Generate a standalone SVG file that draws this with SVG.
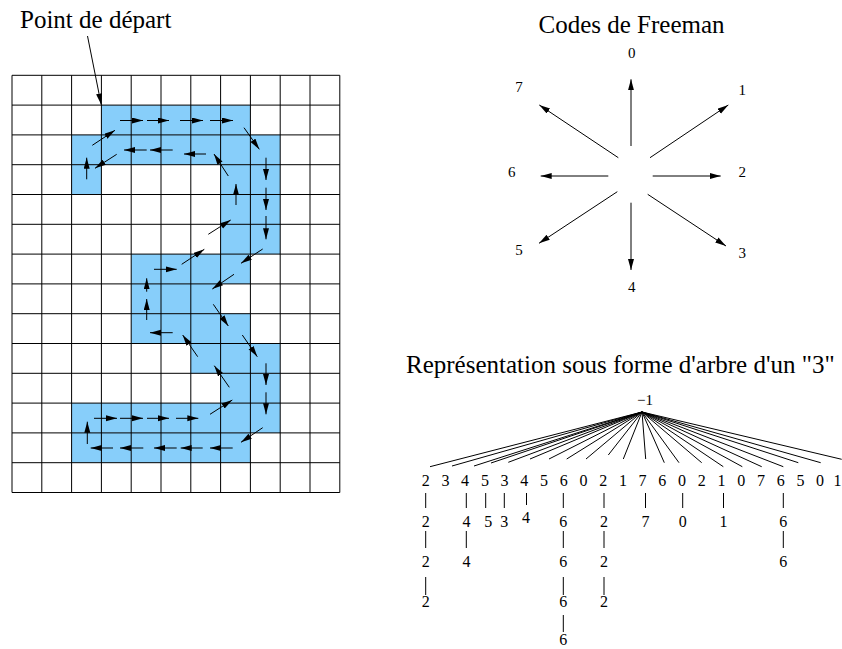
<svg xmlns="http://www.w3.org/2000/svg" width="842" height="649" viewBox="0 0 842 649">
<style>
text{font-family:"Liberation Serif","Times New Roman",serif;fill:#000}
.title{font-size:25px}
.lab{font-size:15px;text-anchor:middle}
.dig{font-size:16px;text-anchor:middle}
.cell{fill:#87CEFA;stroke:none}
.grid line{stroke:#000;stroke-width:1}
.arr line{stroke:#000;stroke-width:1;marker-end:url(#ah)}
.tree line{stroke:#000;stroke-width:1}
</style>
<defs>
<marker id="ah" markerUnits="userSpaceOnUse" markerWidth="12" markerHeight="7" refX="11" refY="3" orient="auto">
<path d="M0,0 L11,3 L0,6 z" fill="#000"/>
</marker>
</defs>
<rect width="842" height="649" fill="#fff"/>

<g id="grid">
<g id="blue-cells">
<rect class="cell" x="101.4" y="105.1" width="149" height="29.8"/>
<rect class="cell" x="71.6" y="134.9" width="208.6" height="29.8"/>
<rect class="cell" x="71.6" y="164.7" width="29.8" height="29.8"/>
<rect class="cell" x="220.6" y="164.7" width="59.6" height="89.4"/>
<rect class="cell" x="131.2" y="254.1" width="119.2" height="29.8"/>
<rect class="cell" x="131.2" y="283.9" width="89.4" height="29.8"/>
<rect class="cell" x="131.2" y="313.7" width="119.2" height="29.8"/>
<rect class="cell" x="190.8" y="343.5" width="89.4" height="29.8"/>
<rect class="cell" x="220.6" y="373.3" width="59.6" height="29.8"/>
<rect class="cell" x="71.6" y="403.1" width="208.6" height="29.8"/>
<rect class="cell" x="71.6" y="432.9" width="178.8" height="29.8"/>
</g>
<g class="grid">
<line x1="12" y1="75.3" x2="12" y2="492.5"/>
<line x1="41.8" y1="75.3" x2="41.8" y2="492.5"/>
<line x1="71.6" y1="75.3" x2="71.6" y2="492.5"/>
<line x1="101.4" y1="75.3" x2="101.4" y2="492.5"/>
<line x1="131.2" y1="75.3" x2="131.2" y2="492.5"/>
<line x1="161" y1="75.3" x2="161" y2="492.5"/>
<line x1="190.8" y1="75.3" x2="190.8" y2="492.5"/>
<line x1="220.6" y1="75.3" x2="220.6" y2="492.5"/>
<line x1="250.4" y1="75.3" x2="250.4" y2="492.5"/>
<line x1="280.2" y1="75.3" x2="280.2" y2="492.5"/>
<line x1="310" y1="75.3" x2="310" y2="492.5"/>
<line x1="339.8" y1="75.3" x2="339.8" y2="492.5"/>
<line x1="12" y1="75.3" x2="339.8" y2="75.3"/>
<line x1="12" y1="105.1" x2="339.8" y2="105.1"/>
<line x1="12" y1="134.9" x2="339.8" y2="134.9"/>
<line x1="12" y1="164.7" x2="339.8" y2="164.7"/>
<line x1="12" y1="194.5" x2="339.8" y2="194.5"/>
<line x1="12" y1="224.3" x2="339.8" y2="224.3"/>
<line x1="12" y1="254.1" x2="339.8" y2="254.1"/>
<line x1="12" y1="283.9" x2="339.8" y2="283.9"/>
<line x1="12" y1="313.7" x2="339.8" y2="313.7"/>
<line x1="12" y1="343.5" x2="339.8" y2="343.5"/>
<line x1="12" y1="373.3" x2="339.8" y2="373.3"/>
<line x1="12" y1="403.1" x2="339.8" y2="403.1"/>
<line x1="12" y1="432.9" x2="339.8" y2="432.9"/>
<line x1="12" y1="462.7" x2="339.8" y2="462.7"/>
<line x1="12" y1="492.5" x2="339.8" y2="492.5"/>
</g>
</g>

<g id="start-label">
<text class="title" x="20" y="27.5">Point de départ</text>
</g>

<g id="chain-arrows" class="arr">
<line x1="87.5" y1="36" x2="101.2" y2="104.5"/>
<line x1="120" y1="120.5" x2="143" y2="120.5"/>
<line x1="147" y1="120.5" x2="169" y2="120.5"/>
<line x1="180" y1="120.5" x2="203" y2="120.5"/>
<line x1="210" y1="120.5" x2="233" y2="120.5"/>
<line x1="244" y1="127.7" x2="259.3" y2="149.3"/>
<line x1="266" y1="157.7" x2="266" y2="180"/>
<line x1="266" y1="187.7" x2="266" y2="210"/>
<line x1="266" y1="216" x2="266" y2="239.3"/>
<line x1="262.7" y1="249" x2="241" y2="263.3"/>
<line x1="234" y1="274.3" x2="212.3" y2="289"/>
<line x1="213.3" y1="304.3" x2="228.3" y2="326"/>
<line x1="242.3" y1="335" x2="257.3" y2="356.7"/>
<line x1="266" y1="363.3" x2="266" y2="385"/>
<line x1="266" y1="392.3" x2="266" y2="414.3"/>
<line x1="262.7" y1="427.7" x2="241" y2="442.3"/>
<line x1="232.7" y1="448" x2="210" y2="448"/>
<line x1="202.7" y1="448" x2="180.7" y2="448"/>
<line x1="176.7" y1="448" x2="154" y2="448"/>
<line x1="143.3" y1="448" x2="120" y2="448"/>
<line x1="113" y1="448" x2="90.7" y2="448"/>
<line x1="87.3" y1="444" x2="87.3" y2="421.7"/>
<line x1="94" y1="418.3" x2="117" y2="418.3"/>
<line x1="120" y1="418.3" x2="143" y2="418.3"/>
<line x1="147" y1="418.3" x2="169" y2="418.3"/>
<line x1="176" y1="418.3" x2="198.3" y2="418.3"/>
<line x1="210" y1="414.3" x2="232.3" y2="400"/>
<line x1="229.3" y1="387.3" x2="214.3" y2="365.7"/>
<line x1="197.7" y1="356.7" x2="182.7" y2="335"/>
<line x1="172.7" y1="332.7" x2="150" y2="332.7"/>
<line x1="146.7" y1="320" x2="146.7" y2="299"/>
<line x1="146.7" y1="291.7" x2="146.7" y2="278.3"/>
<line x1="154" y1="269.3" x2="176.7" y2="269.3"/>
<line x1="181.7" y1="264.3" x2="204.3" y2="249.3"/>
<line x1="208.3" y1="234.3" x2="230.7" y2="220"/>
<line x1="236" y1="205" x2="236" y2="184"/>
<line x1="228.3" y1="176" x2="214" y2="154"/>
<line x1="206" y1="154" x2="184" y2="154"/>
<line x1="172.7" y1="150" x2="150" y2="150"/>
<line x1="146.7" y1="150" x2="124" y2="150"/>
<line x1="116.7" y1="154.3" x2="95" y2="168.3"/>
<line x1="86.7" y1="179.3" x2="86.7" y2="157.7"/>
<line x1="92.3" y1="145.3" x2="115" y2="130.3"/>
</g>

<g id="freeman">
<text class="title" x="631.5" y="33" text-anchor="middle">Codes de Freeman</text>
<g class="arr">
<line x1="631" y1="146" x2="631" y2="79.3"/>
<line x1="650" y1="157.7" x2="728.3" y2="105"/>
<line x1="652.7" y1="176" x2="720.7" y2="176"/>
<line x1="647.7" y1="194.3" x2="726" y2="246"/>
<line x1="631" y1="202.7" x2="631" y2="270"/>
<line x1="617.3" y1="191.7" x2="539" y2="243.3"/>
<line x1="608.3" y1="176" x2="540.7" y2="176"/>
<line x1="618.3" y1="157.7" x2="539.3" y2="105"/>
</g>
<text class="lab" x="631.7" y="58">0</text>
<text class="lab" x="742.3" y="95">1</text>
<text class="lab" x="742.3" y="177">2</text>
<text class="lab" x="742.3" y="258">3</text>
<text class="lab" x="631.7" y="292">4</text>
<text class="lab" x="519" y="255">5</text>
<text class="lab" x="511.7" y="177">6</text>
<text class="lab" x="519" y="92">7</text>
</g>

<g id="tree">
<text class="title" x="406" y="373">Représentation sous forme d'arbre d'un "3"</text>
<text class="lab" x="645" y="405">−1</text>
<g class="tree" id="tree-edges">
<line x1="642" y1="412" x2="430" y2="466.7"/>
<line x1="642" y1="412" x2="452" y2="466"/>
<line x1="642" y1="412" x2="474" y2="466"/>
<line x1="642" y1="412" x2="491" y2="463"/>
<line x1="642" y1="412" x2="508.3" y2="462.3"/>
<line x1="642" y1="412" x2="530" y2="459"/>
<line x1="642" y1="412" x2="549" y2="459"/>
<line x1="642" y1="412" x2="566.7" y2="459"/>
<line x1="642" y1="412" x2="586" y2="459"/>
<line x1="642" y1="412" x2="608.3" y2="455"/>
<line x1="642" y1="412" x2="623.3" y2="459"/>
<line x1="642" y1="412" x2="645.7" y2="459"/>
<line x1="642" y1="412" x2="664.3" y2="462.7"/>
<line x1="642" y1="412" x2="679" y2="462.7"/>
<line x1="642" y1="412" x2="701.7" y2="462.7"/>
<line x1="642" y1="412" x2="723.3" y2="466.7"/>
<line x1="642" y1="412" x2="742.3" y2="466.7"/>
<line x1="642" y1="412" x2="761.7" y2="466.7"/>
<line x1="642" y1="412" x2="783.3" y2="466.7"/>
<line x1="642" y1="412" x2="798.3" y2="462.7"/>
<line x1="642" y1="412" x2="820.7" y2="462.7"/>
<line x1="642" y1="412" x2="841.7" y2="459.3"/>
<line x1="425.7" y1="493" x2="425.7" y2="508"/>
<line x1="425.7" y1="531" x2="425.7" y2="548"/>
<line x1="425.7" y1="577" x2="425.7" y2="595"/>
<line x1="466.3" y1="493" x2="466.3" y2="508"/>
<line x1="466.3" y1="531" x2="466.3" y2="548"/>
<line x1="485.7" y1="493" x2="485.7" y2="508"/>
<line x1="504.3" y1="493" x2="504.3" y2="508"/>
<line x1="526.5" y1="493" x2="526.5" y2="505"/>
<line x1="563.3" y1="493" x2="563.3" y2="508"/>
<line x1="563.3" y1="531" x2="563.3" y2="548"/>
<line x1="563.3" y1="577" x2="563.3" y2="595"/>
<line x1="563.3" y1="615" x2="563.3" y2="632"/>
<line x1="604" y1="493" x2="604" y2="508"/>
<line x1="604" y1="531" x2="604" y2="548"/>
<line x1="604" y1="577" x2="604" y2="595"/>
<line x1="645.5" y1="493" x2="645.5" y2="508"/>
<line x1="682.7" y1="493" x2="682.7" y2="508"/>
<line x1="723.5" y1="493" x2="723.5" y2="508"/>
<line x1="783.3" y1="493" x2="783.3" y2="508"/>
<line x1="783.3" y1="531" x2="783.3" y2="548"/>
</g>
<g id="tree-nodes">
<text class="dig" x="425.7" y="486">2</text>
<text class="dig" x="445.4" y="486">3</text>
<text class="dig" x="465.1" y="486">4</text>
<text class="dig" x="484.9" y="486">5</text>
<text class="dig" x="504.6" y="486">3</text>
<text class="dig" x="524.3" y="486">4</text>
<text class="dig" x="544" y="486">5</text>
<text class="dig" x="563.7" y="486">6</text>
<text class="dig" x="583.5" y="486">0</text>
<text class="dig" x="603.2" y="486">2</text>
<text class="dig" x="622.9" y="486">1</text>
<text class="dig" x="642.6" y="486">7</text>
<text class="dig" x="662.3" y="486">6</text>
<text class="dig" x="682.1" y="486">0</text>
<text class="dig" x="701.8" y="486">2</text>
<text class="dig" x="721.5" y="486">1</text>
<text class="dig" x="741.2" y="486">0</text>
<text class="dig" x="760.9" y="486">7</text>
<text class="dig" x="780.7" y="486">6</text>
<text class="dig" x="800.4" y="486">5</text>
<text class="dig" x="820.1" y="486">0</text>
<text class="dig" x="837.5" y="486">1</text>
<text class="dig" x="425.7" y="527">2</text>
<text class="dig" x="425.7" y="567">2</text>
<text class="dig" x="425.7" y="607">2</text>
<text class="dig" x="466.5" y="527">4</text>
<text class="dig" x="466.5" y="567">4</text>
<text class="dig" x="488.3" y="527">5</text>
<text class="dig" x="504.3" y="527">3</text>
<text class="dig" x="526" y="523">4</text>
<text class="dig" x="563.3" y="527">6</text>
<text class="dig" x="563.3" y="567">6</text>
<text class="dig" x="563.3" y="607">6</text>
<text class="dig" x="563.3" y="645">6</text>
<text class="dig" x="604" y="527">2</text>
<text class="dig" x="604" y="567">2</text>
<text class="dig" x="604" y="607">2</text>
<text class="dig" x="645.5" y="527">7</text>
<text class="dig" x="682.7" y="527">0</text>
<text class="dig" x="723.5" y="527">1</text>
<text class="dig" x="783.3" y="527">6</text>
<text class="dig" x="783.3" y="567">6</text>
</g>
</g>
</svg>
